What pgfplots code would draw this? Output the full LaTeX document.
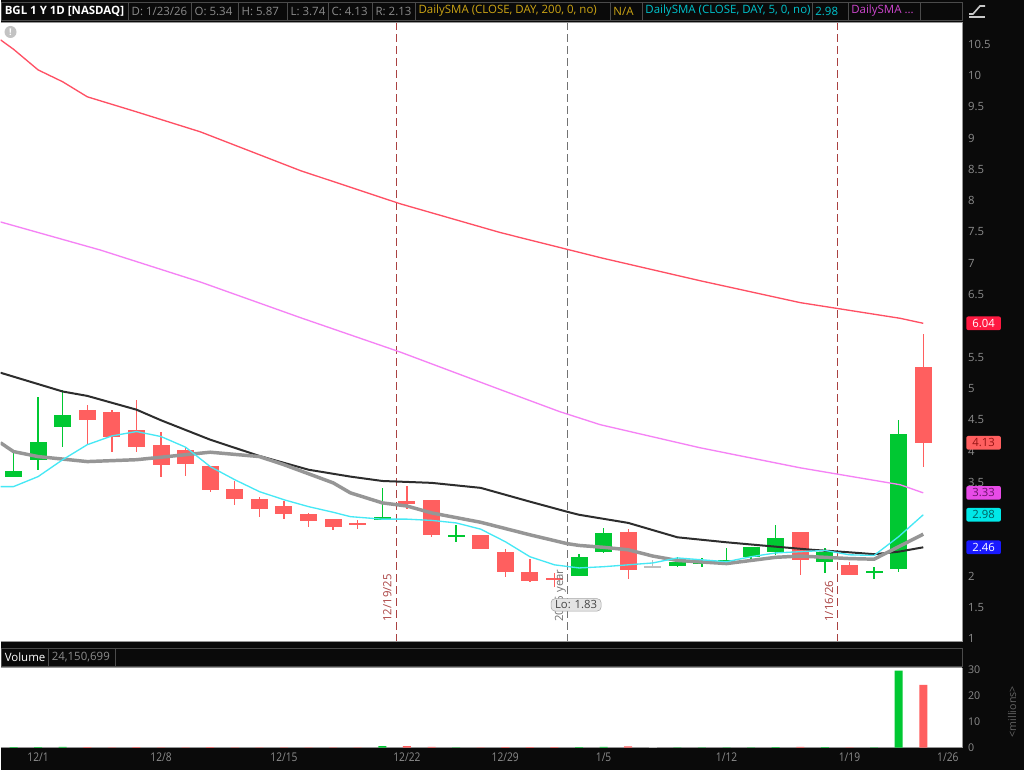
\documentclass[border=0pt]{standalone}
\usepackage{fontspec}
\setmainfont{Open Sans}
\newfontfamily\condfont[FakeStretch=0.85]{Open Sans}
\usepackage{pgfplots}
\pgfplotsset{compat=1.18}
\usepackage{pgfplotstable}

\definecolor{bgdark}{RGB}{10,10,10}
\definecolor{boxline}{RGB}{75,75,75}
\definecolor{axgray}{RGB}{150,150,150}
\definecolor{tickgray}{RGB}{140,140,140}
\definecolor{cgreen}{RGB}{0,200,50}
\definecolor{cred}{RGB}{255,95,95}
\definecolor{cdoji}{RGB}{190,190,190}
\definecolor{smared}{RGB}{255,80,100}
\definecolor{smamag}{RGB}{245,130,245}
\definecolor{smacyan}{RGB}{70,232,245}
\definecolor{smablack}{RGB}{45,45,45}
\definecolor{smagrey}{RGB}{150,150,150}
\definecolor{evred}{RGB}{170,65,65}
\definecolor{evgray}{RGB}{115,115,115}
\definecolor{hdrgold}{RGB}{205,165,20}
\definecolor{hdrcyan}{RGB}{0,195,205}
\definecolor{hdrmag}{RGB}{205,70,205}
\definecolor{lofill}{RGB}{228,228,228}
\definecolor{loline}{RGB}{165,165,165}
\definecolor{lotext}{RGB}{70,70,70}
\definecolor{l1fill}{RGB}{255,25,65}
\definecolor{l2text}{RGB}{150,20,20}
\definecolor{l3fill}{RGB}{232,75,232}
\definecolor{l3text}{RGB}{105,20,105}
\definecolor{l4fill}{RGB}{0,232,232}
\definecolor{l4text}{RGB}{0,95,95}
\definecolor{l5fill}{RGB}{25,25,255}
\definecolor{iconfill}{RGB}{195,195,195}
\definecolor{iconline}{RGB}{200,200,200}
\definecolor{milltext}{RGB}{100,100,100}

% candles: index (trading day), open, high, low, close, volume (millions)
\pgfplotstableread{
i o h l c v
0 3.59 3.97 3.58 3.68 0.15
1 3.85 4.87 3.69 4.15 0.20
2 4.38 4.98 4.06 4.58 0.25
15 2.89 3.41 2.89 2.95 0.60
18 2.63 2.81 2.55 2.65 0.10
23 2.00 2.35 2.00 2.31 0.20
24 2.38 2.77 2.37 2.69 0.25
27 2.16 2.31 2.15 2.22 0.10
28 2.20 2.29 2.14 2.22 0.08
29 2.24 2.45 2.21 2.26 0.10
30 2.31 2.47 2.23 2.47 0.10
31 2.39 2.82 2.34 2.61 0.20
33 2.22 2.45 2.05 2.39 0.15
35 2.06 2.15 1.96 2.08 0.10
36 2.12 4.50 2.07 4.27 29.60
}\upcandles
\pgfplotstableread{
i o h l c v
3 4.65 4.73 4.10 4.49 0.15
4 4.63 4.66 3.98 4.22 0.12
5 4.33 4.82 3.99 4.07 0.15
6 4.10 4.31 3.59 3.77 0.12
7 4.01 4.06 3.60 3.79 0.10
8 3.76 3.76 3.35 3.37 0.15
9 3.39 3.52 3.14 3.23 0.10
10 3.24 3.27 2.94 3.08 0.10
11 3.12 3.20 2.92 3.00 0.10
12 2.99 3.01 2.78 2.88 0.08
13 2.91 2.91 2.74 2.79 0.08
14 2.85 2.90 2.75 2.82 0.10
16 3.20 3.44 3.07 3.15 0.55
17 3.22 3.22 2.63 2.65 0.30
19 2.65 2.65 2.44 2.44 0.12
20 2.39 2.43 1.99 2.06 0.20
21 2.06 2.27 1.91 1.92 0.15
22 1.96 2.05 1.83 1.94 0.15
25 2.70 2.75 1.95 2.10 0.50
32 2.70 2.70 2.01 2.25 0.25
34 2.18 2.23 2.01 2.01 0.12
37 5.34 5.87 3.74 4.13 24.15
}\downcandles
\pgfplotstableread{
i o h l c v
26 2.15 2.25 2.14 2.15 0.10
}\dojicandles

\pgfplotsset{
  wick/.style={draw=none, mark=none, forget plot,
    error bars/.cd, y dir=both, y explicit, error mark=none,
    error bar style={line width=1pt, draw=#1, solid}},
  body/.style={draw=none, mark=none, forget plot,
    error bars/.cd, y dir=both, y explicit, error mark=none,
    error bar style={line width=12.75pt, draw=#1, solid}},
}

\newcommand{\hdrfont}{\fontsize{8.6}{9.5}\selectfont}
\newcommand{\hdrbox}[5]{%
  \draw[boxline, fill=bgdark] (#1,#5-9) rectangle (#2,#5+9);
  \node[anchor=west, inner sep=0pt, text=#3, font=\hdrfont] at (#1+3,#5) {#4};}

\begin{document}
\begin{tikzpicture}[x=0.75pt,y=0.75pt]
\fill[bgdark] (0,0) rectangle (1024,770);

% ---------- price panel ----------
\begin{axis}[
  at={(0pt,96pt)}, anchor=south west, scale only axis,
  width=721.5pt, height=465pt,
  xmin=-0.528, xmax=38.577, ymin=0.952, ymax=10.856,
  axis background/.style={fill=white},
  axis x line=none, axis y line*=right,
  y axis line style={draw=axgray, line width=0.8pt},
  ytick={1,1.5,2,3.5,4,4.5,5,5.5,6.5,7,7.5,8,8.5,9,9.5,10,10.5},
  major tick length=0pt,
  yticklabel style={font=\fontsize{8.5}{9}\selectfont, text=tickgray, anchor=west, xshift=1pt},
  /pgf/number format/assume math mode=true,
  /pgf/number format/fixed,
]
% event lines
\addplot[evred, dash pattern=on 6pt off 3pt, line width=0.8pt, forget plot] coordinates {(15.57,0.952) (15.57,10.856)};
\addplot[evgray, dash pattern=on 6pt off 3pt, line width=0.8pt, forget plot] coordinates {(22.52,0.952) (22.52,10.856)};
\addplot[evred, dash pattern=on 6pt off 3pt, line width=0.8pt, forget plot] coordinates {(33.50,0.952) (33.50,10.856)};

% candles
\addplot[wick=cgreen] table[x=i, y expr={(\thisrow{h}+\thisrow{l})/2}, y error expr={(\thisrow{h}-\thisrow{l})/2}] {\upcandles};
\addplot[body=cgreen] table[x=i, y expr={(\thisrow{o}+\thisrow{c})/2}, y error expr={max(abs(\thisrow{o}-\thisrow{c})/2,0.012)}] {\upcandles};
\addplot[wick=cred] table[x=i, y expr={(\thisrow{h}+\thisrow{l})/2}, y error expr={(\thisrow{h}-\thisrow{l})/2}] {\downcandles};
\addplot[body=cred] table[x=i, y expr={(\thisrow{o}+\thisrow{c})/2}, y error expr={max(abs(\thisrow{o}-\thisrow{c})/2,0.012)}] {\downcandles};
\addplot[wick=cdoji] table[x=i, y expr={(\thisrow{h}+\thisrow{l})/2}, y error expr={(\thisrow{h}-\thisrow{l})/2}] {\dojicandles};
\addplot[body=cdoji] table[x=i, y expr={(\thisrow{o}+\thisrow{c})/2}, y error expr={max(abs(\thisrow{o}-\thisrow{c})/2,0.012)}] {\dojicandles};

% moving averages
\addplot[smared, line width=1pt] coordinates {
(-0.528,10.57) (0,10.42) (1,10.09) (2,9.90) (3,9.66) (5,9.42) (7.6,9.10) (11.67,8.48)
(15.73,7.95) (19.8,7.49) (23.86,7.09) (27.93,6.72) (32,6.37) (36.06,6.12) (37,6.04)};
\addplot[smamag, line width=1pt] coordinates {
(-0.528,7.66) (3.54,7.21) (7.6,6.70) (11.67,6.13) (15.73,5.58) (19.8,4.98) (22.2,4.63)
(23.86,4.42) (27.93,4.05) (32,3.73) (36.06,3.46) (37,3.33)};
\addplot[smablack, line width=1.5pt] coordinates {
(-0.528,5.25) (2,4.95) (3,4.88) (5,4.66) (6,4.49) (8,4.18) (10,3.92) (12,3.70) (13.7,3.59)
(15,3.52) (17,3.49) (19,3.41) (21,3.19) (22.5,3.03) (23,2.98) (25,2.85) (27,2.62) (29,2.54)
(31,2.47) (32.5,2.42) (34,2.38) (35,2.35) (36,2.39) (37,2.46)};
\addplot[smagrey, line width=2.6pt] coordinates {
(-0.528,4.13) (0,3.99) (1,3.91) (3,3.83) (5,3.86) (6,3.90) (8,3.98) (10,3.91) (11,3.78)
(13,3.49) (13.7,3.33) (15,3.17) (16,3.12) (17,3.01) (19,2.86) (21,2.66) (22.5,2.52)
(23,2.49) (24,2.46) (25,2.42) (26,2.32) (27,2.25) (29,2.20) (31,2.30) (32,2.32) (33,2.30)
(34,2.28) (35,2.27) (36,2.47) (37,2.67)};
\addplot[smacyan, line width=1pt] coordinates {
(-0.528,3.43) (0,3.43) (1,3.59) (2,3.86) (3,4.10) (4,4.24) (5,4.31) (6,4.23) (7,4.06)
(8,3.75) (9,3.54) (10,3.35) (11,3.22) (12,3.11) (13,3.02) (13.7,2.95) (15,2.91) (16,2.91)
(17,2.89) (18,2.85) (19,2.75) (20,2.55) (21,2.31) (22,2.18) (23,2.13) (24,2.15) (25,2.18)
(26,2.21) (27,2.29) (28,2.26) (29,2.23) (30,2.31) (31,2.37) (32,2.39) (33,2.41) (34,2.34)
(35,2.33) (36,2.63) (37,2.98)};

% event labels
\node[rotate=90, anchor=west, text=evred, font=\fontsize{8.5}{9}\selectfont, inner sep=0pt] at (axis cs:15.2,1.27) {12/19/25};
\node[rotate=90, anchor=west, text=evgray, font=\fontsize{8.5}{9}\selectfont, inner sep=0pt] at (axis cs:22.24,1.27) {2026 year};
\node[rotate=90, anchor=west, text=evred, font=\fontsize{8.5}{9}\selectfont, inner sep=0pt] at (axis cs:33.17,1.27) {1/16/26};

\coordinate (lo) at (axis cs:22.88,1.54);
\coordinate (r1) at (axis cs:38.577,6.04);
\coordinate (r2) at (axis cs:38.577,4.13);
\coordinate (r3) at (axis cs:38.577,3.33);
\coordinate (r4) at (axis cs:38.577,2.98);
\coordinate (r5) at (axis cs:38.577,2.46);
\end{axis}

% ---------- volume panel ----------
\begin{axis}[
  at={(0pt,16.5pt)}, anchor=south west, scale only axis,
  width=721.5pt, height=60pt,
  xmin=-0.528, xmax=38.577, ymin=0, ymax=30.77,
  axis background/.style={fill=white},
  axis x line*=bottom, axis y line*=right,
  x axis line style={draw=axgray, line width=0.8pt},
  y axis line style={draw=axgray, line width=0.8pt},
  ytick={0,10,20,30},
  xtick={1,6,11,16,20,24,29,34,38},
  xticklabels={12/1,12/8,12/15,12/22,12/29,1/5,1/12,1/19,1/26},
  major tick length=0pt,
  yticklabel style={font=\fontsize{8}{8}\selectfont, text=tickgray, anchor=west, xshift=1pt},
  xticklabel style={font=\condfont\fontsize{9}{9}\selectfont, text=tickgray, yshift=-0.5pt},
  /pgf/number format/assume math mode=true,
]
\addplot[ybar, bar width=6pt, bar shift=0pt, fill=cgreen, draw=none] table[x=i, y=v] {\upcandles};
\addplot[ybar, bar width=6pt, bar shift=0pt, fill=cred, draw=none] table[x=i, y=v] {\downcandles};
\addplot[ybar, bar width=6pt, bar shift=0pt, fill=cdoji, draw=none] table[x=i, y=v] {\dojicandles};
\end{axis}

% ---------- overlays ----------
\draw[axgray, line width=0.8pt] (0,128) -- (962,128);
\draw[axgray, line width=0.8pt] (0,102) -- (962,102);

\node[fill=lofill, draw=loline, rounded corners=3pt, text=lotext,
  font=\fontsize{8.5}{9}\selectfont, inner xsep=3pt, inner ysep=1.5pt] at (lo) {Lo: 1.83};

\tikzset{vlab/.style={anchor=west, rounded corners=1.5pt, inner xsep=2pt, inner ysep=2pt,
  font=\fontsize{8.5}{9}\selectfont, minimum width=26pt, xshift=3pt}}
\node[vlab, fill=l1fill, text=white] at (r1) {6.04};
\node[vlab, fill=cred, text=l2text] at (r2) {4.13};
\node[vlab, fill=l3fill, text=l3text] at (r3) {3.33};
\node[vlab, fill=l4fill, text=l4text] at (r4) {2.98};
\node[vlab, fill=l5fill, text=white] at (r5) {2.46};

% header bar
\hdrbox{1}{128}{white}{\bfseries BGL 1 Y 1D [NASDAQ]}{759}
\hdrbox{128}{191}{tickgray}{D: 1/23/26}{759}
\hdrbox{191}{238}{tickgray}{O: 5.34}{759}
\hdrbox{238}{287}{tickgray}{H: 5.87}{759}
\hdrbox{287}{328}{tickgray}{L: 3.74}{759}
\hdrbox{328}{372}{tickgray}{C: 4.13}{759}
\hdrbox{372}{415}{tickgray}{R: 2.13}{759}
\hdrbox{415}{610}{hdrgold}{DailySMA (CLOSE, DAY, 200, 0, no)}{759}
\hdrbox{610}{642}{hdrgold}{N/A}{759}
\hdrbox{642}{812}{hdrcyan}{DailySMA (CLOSE, DAY, 5, 0, no)}{759}
\hdrbox{812}{848}{hdrcyan}{2.98}{759}
\hdrbox{848}{920}{hdrmag}{DailySMA ...}{759}
\hdrbox{920}{962}{white}{}{759}
\draw[axgray, line width=0.6pt] (0,748) -- (962,748);

% volume header bar
\hdrbox{1}{48}{white}{Volume}{112.5}
\hdrbox{48}{115}{tickgray}{24,150,699}{112.5}
\hdrbox{115}{962}{white}{}{112.5}

% icons
\fill[iconfill] (10,738) circle (6);
\node[text=white, font=\bfseries\fontsize{7}{7}\selectfont, inner sep=0pt] at (10,738) {!};
\draw[iconline, line width=1.2pt] (969,753) -- (985,753);
\draw[iconline, line width=1.2pt] (969,756) -- (973,756) -- (980,764) -- (985,764);

\node[rotate=90, text=milltext, font=\fontsize{8}{8}\selectfont] at (1012,58) {<millions>};
\end{tikzpicture}
\end{document}
